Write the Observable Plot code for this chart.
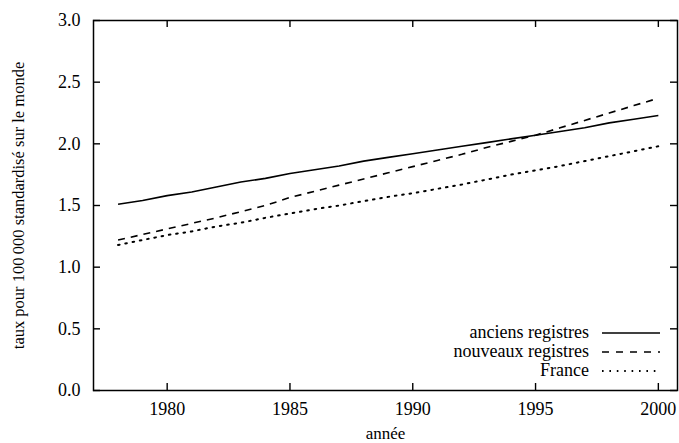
<!DOCTYPE html>
<html><head><meta charset="utf-8">
<script src="https://cdn.jsdelivr.net/npm/d3@7"></script>
<script src="https://cdn.jsdelivr.net/npm/@observablehq/plot@0.6"></script>
<style>body{margin:0;background:#fff} svg{display:block} svg text{font-family:"Liberation Serif","Times New Roman",Times,"DejaVu Serif","Noto Serif",serif !important;}</style>
</head><body><div id="chart"></div>
<script>
const years = [1978,1979,1980,1981,1982,1983,1984,1985,1986,1987,1988,1989,1990,1991,1992,1993,1994,1995,1996,1997,1998,1999,2000];
const anciens  = [1.51,1.54,1.58,1.61,1.65,1.69,1.72,1.76,1.79,1.82,1.86,1.89,1.92,1.95,1.98,2.01,2.04,2.07,2.10,2.13,2.17,2.20,2.23];
const nouveaux = [1.22,1.265,1.31,1.355,1.40,1.45,1.50,1.565,1.615,1.665,1.715,1.765,1.815,1.865,1.915,1.97,2.02,2.07,2.13,2.19,2.25,2.31,2.37];
const france   = [1.18,1.22,1.26,1.29,1.33,1.36,1.40,1.435,1.47,1.50,1.535,1.57,1.60,1.635,1.67,1.71,1.75,1.785,1.82,1.86,1.90,1.94,1.98];
const seriesNames = ["anciens registres","nouveaux registres","France"];
const xTicks = [1980,1985,1990,1995,2000];
const yTicks = [0,0.5,1,1.5,2,2.5,3];
const yLabel = "taux pour 100\u2009000 standardisé sur le monde";
const xLabel = "année";

const seriesValues = [anciens, nouveaux, france];
const dashes = [null, "7,6", "1.6,5.8"];
const data = seriesNames.flatMap((s, j) => years.map((y, i) => ({series: s, year: y, value: seriesValues[j][i]})));

const W = 679, H = 443, mL = 93, mR = 2, mT = 20, mB = 53;
const fw = W - mL - mR, fh = H - mT - mB, tick = 7;
const font = "Liberation Serif, Times New Roman, serif";

const legendMark = (index, scales, values, dims) => {
  const g = d3.create("svg:g");
  const right = dims.width - dims.marginRight;
  const bottom = dims.height - dims.marginBottom;
  seriesNames.forEach((name, i) => {
    const yy = bottom - 57 + 19 * i;
    g.append("text").attr("x", right - 88).attr("y", yy + 5)
      .attr("text-anchor", "end").attr("font-size", 18)
      .attr("fill", "#000").text(name);
    const l = g.append("line").attr("x1", right - 75).attr("x2", right - 17)
      .attr("y1", yy).attr("y2", yy).attr("stroke", "#000")
      .attr("stroke-width", i === 2 ? 1.8 : 1.5);
    if (dashes[i]) l.attr("stroke-dasharray", i === 1 ? "7,7" : "1.6,5.8");
  });
  return g.node();
};

const chart = Plot.plot({
  width: W,
  height: H,
  marginLeft: mL,
  marginRight: mR,
  marginTop: mT,
  marginBottom: mB,
  style: {fontFamily: font, fontSize: "18px", color: "#000", background: "#fff"},
  x: {domain: [1977, 2000.78], label: null},
  y: {domain: [0, 3], label: null},
  marks: [
    Plot.ruleX(xTicks, {x: d => d, insetTop: fh - tick, stroke: "#000", strokeWidth: 1.4}),
    Plot.ruleX(xTicks, {x: d => d, insetBottom: fh - tick, stroke: "#000", strokeWidth: 1.4}),
    Plot.ruleY(yTicks, {y: d => d, insetRight: fw - tick, stroke: "#000", strokeWidth: 1.4}),
    Plot.ruleY(yTicks, {y: d => d, insetLeft: fw - tick, stroke: "#000", strokeWidth: 1.4}),
    Plot.axisX(xTicks, {anchor: "bottom", tickSize: 0, tickPadding: 12, tickFormat: d => String(d), label: null, fontSize: 18}),
    Plot.axisY(yTicks, {anchor: "left", tickSize: 0, tickPadding: 13, tickFormat: d3.format(".1f"), label: null, fontSize: 18}),
    Plot.frame({stroke: "#000", strokeWidth: 1.5}),
    ...seriesNames.map((s, j) => Plot.line(data.filter(d => d.series === s), {
      x: "year", y: "value", stroke: "#000",
      strokeWidth: j === 2 ? 2 : 1.6,
      strokeDasharray: dashes[j] ?? undefined,
      strokeLinecap: j === 2 ? "round" : "butt"
    })),
    Plot.text([yLabel], {frameAnchor: "left", dx: -75, rotate: -90, fontSize: 16.5, textAnchor: "middle", lineAnchor: "middle"}),
    Plot.text([xLabel], {frameAnchor: "bottom", dy: 43, fontSize: 17, textAnchor: "middle", lineAnchor: "middle"}),
    legendMark
  ]
});
document.getElementById("chart").append(chart);
</script>
</body></html>
